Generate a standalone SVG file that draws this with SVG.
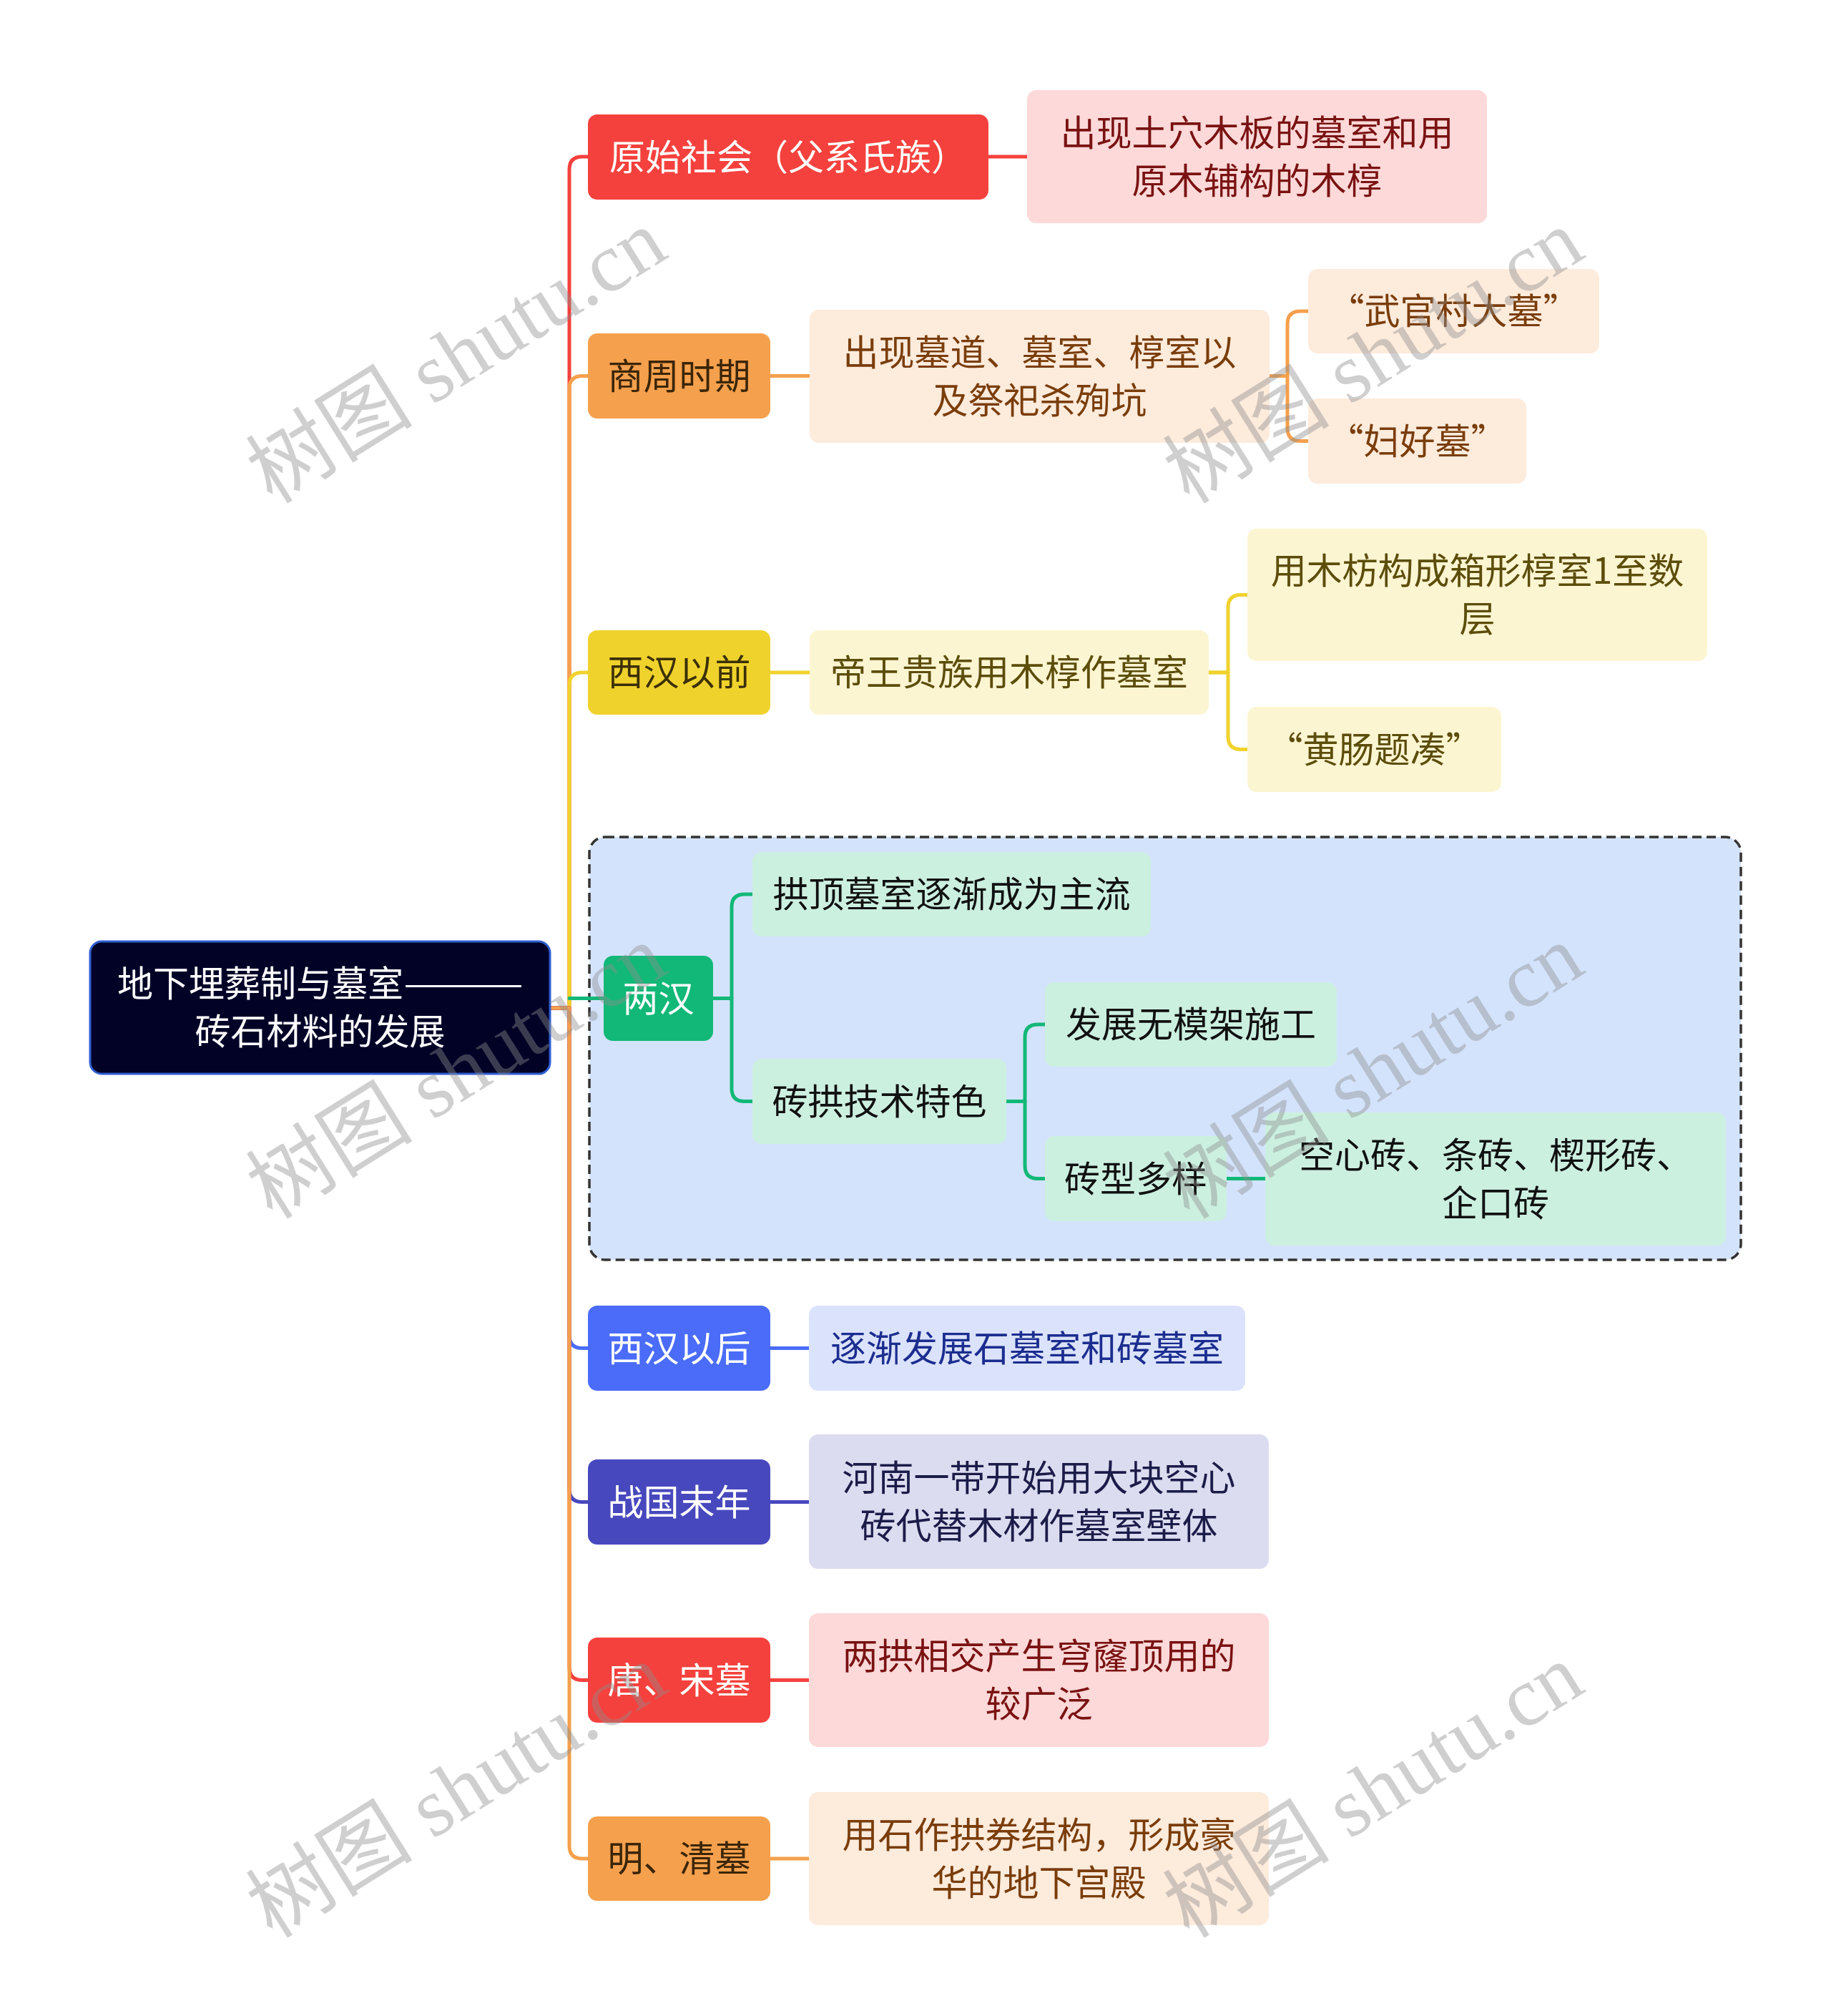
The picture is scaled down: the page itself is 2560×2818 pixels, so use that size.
<svg xmlns="http://www.w3.org/2000/svg" width="2560" height="2818" viewBox="0 0 2560 2818">
<style>
.t{font-family:"Noto Sans CJK SC","Noto Sans",sans-serif;font-size:50px;text-anchor:middle}
.w{fill:#ffffff}
.ln{fill:none;stroke-width:5;stroke-linecap:round;stroke-linejoin:round}
.red{stroke:#f5413d}.ora{stroke:#f5a04d}.yel{stroke:#f0d22c}.grn{stroke:#12b877}.blu{stroke:#4a6cf8}.ind{stroke:#4848be}
.wm{font-family:"Liberation Serif","Noto Sans CJK SC",serif;font-size:117px;fill:#8c8c8c;fill-opacity:0.42}
</style>
<rect width="2560" height="2818" fill="#ffffff"/>
<g id="group-lianghan-frame">
<rect x="824" y="1170" width="1610" height="591" rx="22" fill="#d4e3fc" stroke="#333333" stroke-width="3.5" stroke-dasharray="13 7"/>
</g>
<g id="connectors">
<path class="ln red" d="M769,1409 H796 V237 Q796,219 814,219 H822"/>
<path class="ln ora" d="M769,1409 H796 V543.5 Q796,525.5 814,525.5 H822"/>
<path class="ln yel" d="M769,1409 H796 V958 Q796,940 814,940 H822"/>
<path class="ln grn" d="M796,1395.5 H844"/>
<path class="ln blu" d="M769,1409 H796 V1866.5 Q796,1884.5 814,1884.5 H822"/>
<path class="ln ind" d="M769,1409 H796 V2081.5 Q796,2099.5 814,2099.5 H822"/>
<path class="ln red" d="M769,1409 H796 V2330.5 Q796,2348.5 814,2348.5 H822"/>
<path class="ln ora" d="M769,1409 H796 V2580 Q796,2598 814,2598 H822"/>
<path class="ln red" d="M1382,219 H1436"/>
<path class="ln ora" d="M1077,525.5 H1132"/>
<path class="ln ora" d="M1775,525.5 H1800 V453 Q1800,435 1818,435 H1829"/>
<path class="ln ora" d="M1775,525.5 H1800 V598.5 Q1800,616.5 1818,616.5 H1829"/>
<path class="ln yel" d="M1077,940 H1132"/>
<path class="ln yel" d="M1690,940 H1717 V849.5 Q1717,831.5 1735,831.5 H1744"/>
<path class="ln yel" d="M1690,940 H1717 V1029.5 Q1717,1047.5 1735,1047.5 H1744"/>
<path class="ln grn" d="M997,1395.5 H1023 V1268 Q1023,1250 1041,1250 H1052"/>
<path class="ln grn" d="M997,1395.5 H1023 V1521.5 Q1023,1539.5 1041,1539.5 H1052"/>
<path class="ln grn" d="M1407,1539.5 H1433 V1450 Q1433,1432 1451,1432 H1461"/>
<path class="ln grn" d="M1407,1539.5 H1433 V1629.5 Q1433,1647.5 1451,1647.5 H1461"/>
<path class="ln grn" d="M1715,1647.5 H1769"/>
<path class="ln blu" d="M1077,1884.5 H1131"/>
<path class="ln ind" d="M1077,2099.5 H1131"/>
<path class="ln red" d="M1077,2348.5 H1131"/>
<path class="ln ora" d="M1077,2598 H1131"/>
</g>
<g id="root">
<rect x="126" y="1316" width="643" height="185" rx="16" fill="#020227" stroke="#2f5fd0" stroke-width="3"/>
<text class="t w" x="164" y="1393" text-anchor="start" style="text-anchor:start">地下埋葬制与墓室</text>
<text class="t w" x="564" y="1393" style="text-anchor:start" textLength="168" lengthAdjust="spacingAndGlyphs">———</text>
<text class="t w" x="447.5" y="1460">砖石材料的发展</text>
</g>
<g id="n-yuanshi">
<rect x="822" y="160" width="560" height="119" rx="13" fill="#f5413d"/>
<text class="t w" x="1102" y="237.5">原始社会（父系氏族）</text>
</g>
<g id="n-yuanshi-c">
<rect x="1436" y="126" width="643" height="186" rx="13" fill="#fdd9d9"/>
<text class="t" fill="#7a1212" x="1757.5" y="203.5">出现土穴木板的墓室和用</text>
<text class="t" fill="#7a1212" x="1757.5" y="270.5">原木辅构的木椁</text>
</g>
<g id="n-shangzhou">
<rect x="822" y="466" width="255" height="119" rx="13" fill="#f5a04d"/>
<text class="t" fill="#3b2508" x="949.5" y="543.5">商周时期</text>
</g>
<g id="n-shangzhou-c">
<rect x="1132" y="433" width="643" height="186" rx="13" fill="#fdebdc"/>
<text class="t" fill="#7a3d0a" x="1453.5" y="510.5">出现墓道、墓室、椁室以</text>
<text class="t" fill="#7a3d0a" x="1453.5" y="577.5">及祭祀杀殉坑</text>
</g>
<g id="n-wuguancun">
<rect x="1829" y="376" width="407" height="118" rx="13" fill="#fdebdc"/>
<text class="t" fill="#7a3d0a" x="2032.5" y="453">“武官村大墓”</text>
</g>
<g id="n-fuhao">
<rect x="1829" y="557" width="305" height="119" rx="13" fill="#fdebdc"/>
<text class="t" fill="#7a3d0a" x="1981.5" y="634.5">“妇好墓”</text>
</g>
<g id="n-xihanqian">
<rect x="822" y="881" width="255" height="118" rx="13" fill="#f0d22c"/>
<text class="t" fill="#3b3008" x="949.5" y="958">西汉以前</text>
</g>
<g id="n-xihanqian-c">
<rect x="1132" y="881" width="558" height="118" rx="13" fill="#fcf5d2"/>
<text class="t" fill="#5c4d0a" x="1411" y="958">帝王贵族用木椁作墓室</text>
</g>
<g id="n-mufang">
<rect x="1744" y="739" width="643" height="185" rx="13" fill="#fcf5d2"/>
<text class="t" fill="#5c4d0a" x="2065.5" y="816">用木枋构成箱形椁室1至数</text>
<text class="t" fill="#5c4d0a" x="2065.5" y="883">层</text>
</g>
<g id="n-huangchang">
<rect x="1744" y="988" width="355" height="119" rx="13" fill="#fcf5d2"/>
<text class="t" fill="#5c4d0a" x="1921.5" y="1065.5">“黄肠题凑”</text>
</g>
<g id="n-lianghan">
<rect x="844" y="1336" width="153" height="119" rx="13" fill="#12b877"/>
<text class="t w" x="920.5" y="1413.5">两汉</text>
</g>
<g id="n-gongding">
<rect x="1052" y="1191" width="557" height="118" rx="13" fill="#ccf0e0"/>
<text class="t" fill="#111111" x="1330.5" y="1268">拱顶墓室逐渐成为主流</text>
</g>
<g id="n-zhuangong">
<rect x="1052" y="1480" width="355" height="119" rx="13" fill="#ccf0e0"/>
<text class="t" fill="#111111" x="1229.5" y="1557.5">砖拱技术特色</text>
</g>
<g id="n-wumojia">
<rect x="1461" y="1373" width="408" height="118" rx="13" fill="#ccf0e0"/>
<text class="t" fill="#111111" x="1665" y="1450">发展无模架施工</text>
</g>
<g id="n-zhuanxing">
<rect x="1461" y="1588" width="254" height="119" rx="13" fill="#ccf0e0"/>
<text class="t" fill="#111111" x="1588" y="1665.5">砖型多样</text>
</g>
<g id="n-kongxin">
<rect x="1769" y="1555" width="644" height="186" rx="13" fill="#ccf0e0"/>
<text class="t" fill="#111111" x="2091" y="1632.5">空心砖、条砖、楔形砖、</text>
<text class="t" fill="#111111" x="2091" y="1699.5">企口砖</text>
</g>
<g id="n-xihanhou">
<rect x="822" y="1825" width="255" height="119" rx="13" fill="#4a6cf8"/>
<text class="t w" x="949.5" y="1902.5">西汉以后</text>
</g>
<g id="n-xihanhou-c">
<rect x="1131" y="1825" width="610" height="119" rx="13" fill="#dbe2fc"/>
<text class="t" fill="#1b2d8f" x="1436" y="1902.5">逐渐发展石墓室和砖墓室</text>
</g>
<g id="n-zhanguo">
<rect x="822" y="2040" width="255" height="119" rx="13" fill="#4848be"/>
<text class="t w" x="949.5" y="2117.5">战国末年</text>
</g>
<g id="n-zhanguo-c">
<rect x="1131" y="2005" width="643" height="188" rx="13" fill="#dcdcf0"/>
<text class="t" fill="#1c1c4a" x="1452.5" y="2083.5">河南一带开始用大块空心</text>
<text class="t" fill="#1c1c4a" x="1452.5" y="2150.5">砖代替木材作墓室壁体</text>
</g>
<g id="n-tangsong">
<rect x="822" y="2289" width="255" height="119" rx="13" fill="#f5413d"/>
<text class="t w" x="949.5" y="2366.5">唐、宋墓</text>
</g>
<g id="n-tangsong-c">
<rect x="1131" y="2255" width="643" height="187" rx="13" fill="#fdd9d9"/>
<text class="t" fill="#7a1212" x="1452.5" y="2333">两拱相交产生穹窿顶用的</text>
<text class="t" fill="#7a1212" x="1452.5" y="2400">较广泛</text>
</g>
<g id="n-mingqing">
<rect x="822" y="2539" width="255" height="118" rx="13" fill="#f5a04d"/>
<text class="t" fill="#3b2508" x="949.5" y="2616">明、清墓</text>
</g>
<g id="n-mingqing-c">
<rect x="1131" y="2505" width="643" height="186" rx="13" fill="#fdebdc"/>
<text class="t" fill="#7a3d0a" x="1452.5" y="2582.5">用石作拱券结构，形成豪</text>
<text class="t" fill="#7a3d0a" x="1452.5" y="2649.5">华的地下宫殿</text>
</g>
<g id="watermark">
<text class="wm" x="381" y="706" transform="rotate(-32 381 706)">树图 shutu.cn</text>
<text class="wm" x="1663" y="706" transform="rotate(-32 1663 706)">树图 shutu.cn</text>
<text class="wm" x="381" y="1706" transform="rotate(-32 381 1706)">树图 shutu.cn</text>
<text class="wm" x="1663" y="1706" transform="rotate(-32 1663 1706)">树图 shutu.cn</text>
<text class="wm" x="381" y="2711" transform="rotate(-32 381 2711)">树图 shutu.cn</text>
<text class="wm" x="1663" y="2711" transform="rotate(-32 1663 2711)">树图 shutu.cn</text>
</g>
</svg>
